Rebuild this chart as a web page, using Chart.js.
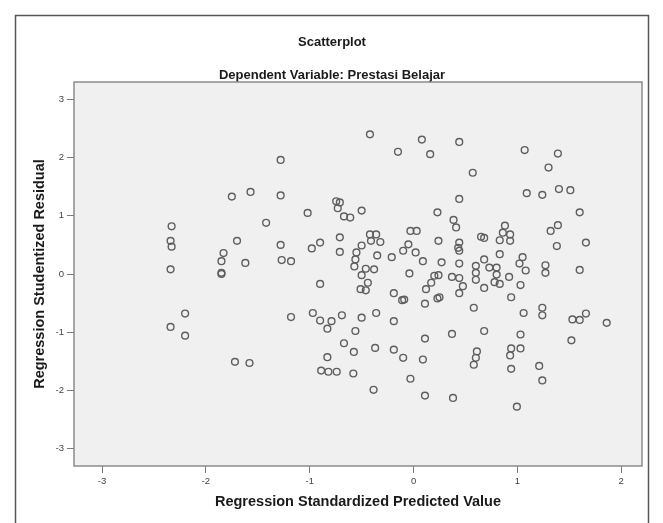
<!DOCTYPE html>
<html>
<head>
<meta charset="utf-8">
<script src="https://cdn.jsdelivr.net/npm/chart.js@4.4.0/dist/chart.umd.min.js"></script>
<style>
  html, body { margin: 0; padding: 0; background: #ffffff; }
  #wrap { width: 663px; height: 523px; position: relative; }
  canvas { display: block; }
</style>
</head>
<body>
<div id="wrap"><canvas id="c" width="663" height="523"></canvas></div>
<script>
const chartTitle = "Scatterplot";
const chartSubtitle = "Dependent Variable: Prestasi Belajar";
const xAxisTitle = "Regression Standardized Predicted Value";
const yAxisTitle = "Regression Studentized Residual";

const xTicks = [-3, -2, -1, 0, 1, 2];
const yTicks = [-3, -2, -1, 0, 1, 2, 3];

const predictedValues = [
  -1.75, -1.57, -2.33, -2.34, -2.33, -2.34, -1.83, -1.85, -1.70, -1.62,
  -1.85, -1.85, -2.20, -2.34, -2.20, -1.72, -1.58,
  -0.42, 0.08, -0.15, 0.16, -1.28, -1.28, -0.745, -0.71, -0.73, -0.67,
  -0.61, -0.50, -1.02, -1.42, 0.23, -0.71, -0.42, -0.36, -0.41, -0.32,
  -0.50, -0.55, -0.71, -0.90, -0.98, -1.28, -1.27, -1.18, -0.03, 0.03,
  -0.05, -0.10, 0.02, 0.09, 0.24, 0.27, -0.21, -0.35, -0.56, -0.57,
  -0.46, -0.38, -0.50, -0.04, 0.24, -0.90, -0.44,
  0.44, 1.07, 1.39, 1.30, 0.57, 0.44, 1.09, 1.24, 1.40, 1.51,
  1.60, 0.385, 0.41, 0.88, 0.86, 0.93, 0.83, 0.93, 0.65, 0.68,
  1.39, 1.32, 1.66, 1.38, 0.44, 0.43, 0.44, 0.83, 1.05, 1.02,
  1.08, 1.27, 1.27, 1.60, 0.44, 0.60, 0.68, 0.73, 0.80, 0.80,
  0.60, 0.92, 0.37, 0.44, 0.20, 0.17, 0.60, 0.78, 0.83, 0.475,
  0.44, 0.68, 1.03, 0.25, 0.23, 0.58, 0.94, 1.06, 1.24, 1.24,
  1.53, 1.60, 1.66, 1.86, 1.52, 0.37, 0.68, 1.03, 0.61, 0.60,
  0.58, 0.94, 1.03, 0.93, 0.94, 1.21, 1.24, 0.38, 0.995,
  -0.51, -0.46, -0.19, -0.11, -0.09, 0.12, 0.11, -1.18, -0.97, -0.90,
  -0.79, -0.83, -0.69, -0.50, -0.36, -0.19, -0.56, -0.67, -0.575, -0.37,
  -0.19, -0.10, 0.09, 0.11, -0.03, 0.11, -0.385, -0.83, -0.89, -0.82,
  -0.74, -0.58
];

const studentizedResiduals = [
  1.33, 1.41, 0.82, 0.57, 0.47, 0.08, 0.36, 0.22, 0.57, 0.19,
  0.00, 0.02, -0.68, -0.91, -1.06, -1.51, -1.53,
  2.40, 2.31, 2.10, 2.06, 1.96, 1.35, 1.25, 1.23, 1.13, 0.99,
  0.97, 1.09, 1.05, 0.88, 1.06, 0.63, 0.68, 0.68, 0.57, 0.55,
  0.49, 0.37, 0.38, 0.54, 0.44, 0.50, 0.24, 0.22, 0.74, 0.74,
  0.51, 0.40, 0.37, 0.22, 0.57, 0.20, 0.29, 0.32, 0.25, 0.13,
  0.09, 0.08, -0.02, 0.01, -0.02, -0.17, -0.15,
  2.27, 2.13, 2.07, 1.83, 1.74, 1.29, 1.39, 1.36, 1.46, 1.44,
  1.06, 0.93, 0.80, 0.83, 0.71, 0.68, 0.58, 0.57, 0.64, 0.62,
  0.84, 0.74, 0.54, 0.48, 0.54, 0.45, 0.40, 0.34, 0.29, 0.18,
  0.06, 0.15, 0.02, 0.07, 0.18, 0.14, 0.25, 0.11, 0.11, -0.01,
  0.02, -0.05, -0.05, -0.07, -0.03, -0.15, -0.10, -0.14, -0.17, -0.21,
  -0.33, -0.24, -0.19, -0.40, -0.42, -0.58, -0.40, -0.67, -0.58, -0.71,
  -0.78, -0.79, -0.68, -0.84, -1.14, -1.03, -0.98, -1.04, -1.33, -1.44,
  -1.56, -1.28, -1.28, -1.40, -1.63, -1.58, -1.83, -2.13, -2.28,
  -0.26, -0.28, -0.33, -0.45, -0.44, -0.26, -0.51, -0.74, -0.67, -0.80,
  -0.81, -0.94, -0.71, -0.75, -0.67, -0.81, -0.98, -1.19, -1.34, -1.27,
  -1.30, -1.44, -1.47, -1.11, -1.80, -2.09, -1.99, -1.43, -1.66, -1.68,
  -1.68, -1.71
];

const points = predictedValues.map((x, i) => ({ x: x, y: studentizedResiduals[i] }));

const FONT = "'Liberation Sans', Arial, 'DejaVu Sans', sans-serif";

const framePlugin = {
  id: 'framePlugin',
  beforeDraw(chart) {
    const ctx = chart.ctx;
    ctx.save();
    ctx.fillStyle = '#ffffff';
    ctx.fillRect(0, 0, chart.width, chart.height);
    ctx.strokeStyle = '#555555';
    ctx.lineWidth = 1.5;
    ctx.strokeRect(15.5, 15.5, 633, 520);
    ctx.fillStyle = '#1a1a1a';
    ctx.textAlign = 'center';
    ctx.textBaseline = 'middle';
    ctx.font = 'bold 13px ' + FONT;
    ctx.fillText(chartTitle, 332, 42);
    ctx.fillText(chartSubtitle, 332, 75);
    const a = chart.chartArea;
    ctx.fillStyle = '#f0f0f0';
    ctx.fillRect(a.left, a.top, a.right - a.left, a.bottom - a.top);
    ctx.restore();
  },
  beforeDatasetsDraw(chart) {
    const ctx = chart.ctx;
    const a = chart.chartArea;
    ctx.save();
    ctx.strokeStyle = '#8c8c8c';
    ctx.lineWidth = 1.5;
    ctx.strokeRect(a.left, a.top, a.right - a.left, a.bottom - a.top);
    ctx.restore();
  }
};

new Chart(document.getElementById('c'), {
  type: 'scatter',
  data: {
    datasets: [{
      data: points,
      pointStyle: 'circle',
      pointRadius: 3.4,
      pointHoverRadius: 3.4,
      pointBorderWidth: 1.4,
      pointBorderColor: '#5e5e5e',
      pointBackgroundColor: 'rgba(0,0,0,0)',
      showLine: false
    }]
  },
  options: {
    responsive: false,
    devicePixelRatio: 1,
    animation: false,
    events: [],
    layout: { padding: { left: 15, top: 82, right: 21, bottom: 0 } },
    plugins: {
      legend: { display: false },
      title: { display: false },
      tooltip: { enabled: false }
    },
    scales: {
      x: {
        type: 'linear',
        min: -3.27,
        max: 2.2,
        afterFit(scale) { scale.height = 57; },
        afterBuildTicks(scale) { scale.ticks = xTicks.map(v => ({ value: v })); },
        grid: { drawOnChartArea: false, drawTicks: true, tickLength: 7, color: '#7a7a7a', lineWidth: 1 },
        border: { display: false },
        ticks: { color: '#444444', font: { size: 9.5, family: FONT }, padding: 3, maxRotation: 0, autoSkip: false, includeBounds: false },
        title: { display: true, text: xAxisTitle, color: '#1a1a1a', font: { size: 14.5, weight: 'bold', family: FONT }, padding: { top: 0, bottom: 12 } }
      },
      y: {
        type: 'linear',
        min: -3.3,
        max: 3.3,
        afterFit(scale) { scale.width = 59; },
        afterBuildTicks(scale) { scale.ticks = yTicks.map(v => ({ value: v })); },
        grid: { drawOnChartArea: false, drawTicks: true, tickLength: 7, color: '#7a7a7a', lineWidth: 1 },
        border: { display: false },
        ticks: { color: '#444444', font: { size: 9.5, family: FONT }, padding: 3, includeBounds: false },
        title: { display: true, text: yAxisTitle, color: '#1a1a1a', font: { size: 14.5, weight: 'bold', family: FONT }, padding: { top: 16, bottom: 0 } }
      }
    }
  },
  plugins: [framePlugin]
});
</script>
</body>
</html>
